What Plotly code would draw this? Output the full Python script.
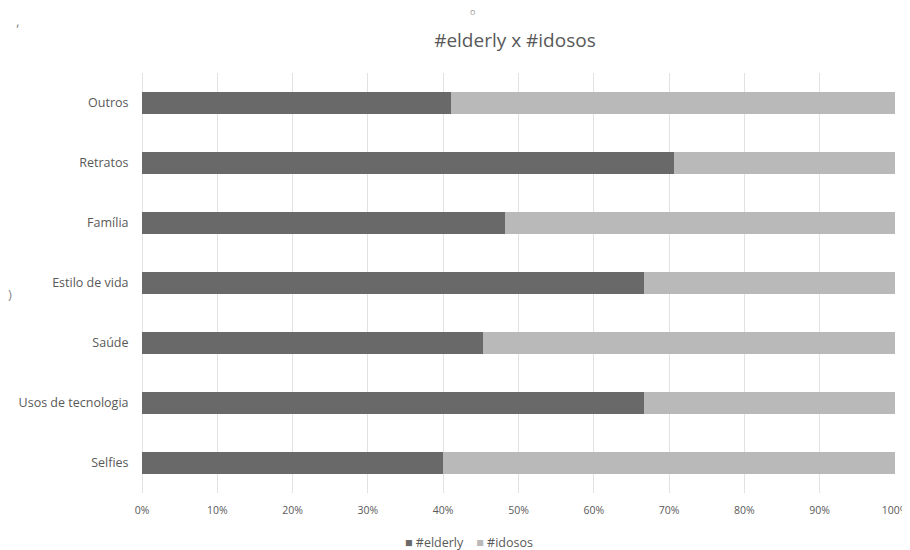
import plotly.graph_objects as go

categories = ["Selfies", "Usos de tecnologia", "Saúde", "Estilo de vida", "Família", "Retratos", "Outros"]
elderly = [40.0, 66.7, 45.3, 66.6, 48.2, 70.6, 41.1]
idosos = [60.0, 33.3, 54.7, 33.4, 51.8, 29.4, 58.9]
tick_vals = [0, 10, 20, 30, 40, 50, 60, 70, 80, 90, 100]
tick_text = ["0%", "10%", "20%", "30%", "40%", "50%", "60%", "70%", "80%", "90%", "100%"]
series_names = ["#elderly", "#idosos"]
series_colors = ["#696969", "#b9b9b9"]

FONT = "Open Sans"
TXT = "#595959"

fig = go.Figure()
fig.add_trace(go.Bar(y=categories, x=elderly, name=series_names[0], orientation="h",
                     marker=dict(color=series_colors[0], line=dict(width=0)), showlegend=False))
fig.add_trace(go.Bar(y=categories, x=idosos, name=series_names[1], orientation="h",
                     marker=dict(color=series_colors[1], line=dict(width=0)), showlegend=False))

legend_text = (f'<span style="color:{series_colors[0]}">■</span> {series_names[0]}'
               f'&nbsp;&nbsp;&nbsp;&nbsp;<span style="color:{series_colors[1]}">■</span> {series_names[1]}')

annotations = [
    dict(text=legend_text, x=0.4345, y=-0.119, xref="paper", yref="paper", showarrow=False,
         xanchor="center", yanchor="middle", font=dict(family=FONT, size=12.5, color=TXT)),
    dict(text=")", x=-0.175, y=0.474, xref="paper", yref="paper", showarrow=False,
         xanchor="center", yanchor="middle", font=dict(family=FONT, size=13, color="#8a8a8a")),
    dict(text=",", x=-0.165, y=1.125, xref="paper", yref="paper", showarrow=False,
         xanchor="center", yanchor="middle", font=dict(family=FONT, size=14, color="#8a8a8a")),
    dict(text="o", x=0.4385, y=1.147, xref="paper", yref="paper", showarrow=False,
         xanchor="center", yanchor="middle", font=dict(family=FONT, size=9, color="#9a9a9a")),
]

fig.update_layout(
    width=902, height=542,
    barmode="stack", bargap=0.62,
    plot_bgcolor="white", paper_bgcolor="white",
    margin=dict(l=133.5, r=15, t=65, b=57),
    title=dict(text="#elderly x #idosos", x=0.562, xanchor="center", y=1 - 32 / 542, yanchor="middle",
               font=dict(family=FONT, size=19, color=TXT)),
    font=dict(family=FONT, color=TXT),
    annotations=annotations,
    xaxis=dict(range=[0, 100], tickvals=tick_vals, ticktext=tick_text, showgrid=True,
               gridcolor="#e2e2e2", gridwidth=1, zeroline=True, zerolinecolor="#e2e2e2",
               zerolinewidth=1, showline=False, ticks="outside", ticklen=7, tickcolor="rgba(0,0,0,0)",
               tickfont=dict(family=FONT, size=10.5, color=TXT), fixedrange=True, automargin=False),
    yaxis=dict(categoryorder="array", categoryarray=categories, showgrid=False, zeroline=False,
               showline=False, ticks="outside", ticklen=10, tickcolor="rgba(0,0,0,0)",
               tickfont=dict(family=FONT, size=12.5, color=TXT), automargin=False),
)

fig.write_html("out.html")
